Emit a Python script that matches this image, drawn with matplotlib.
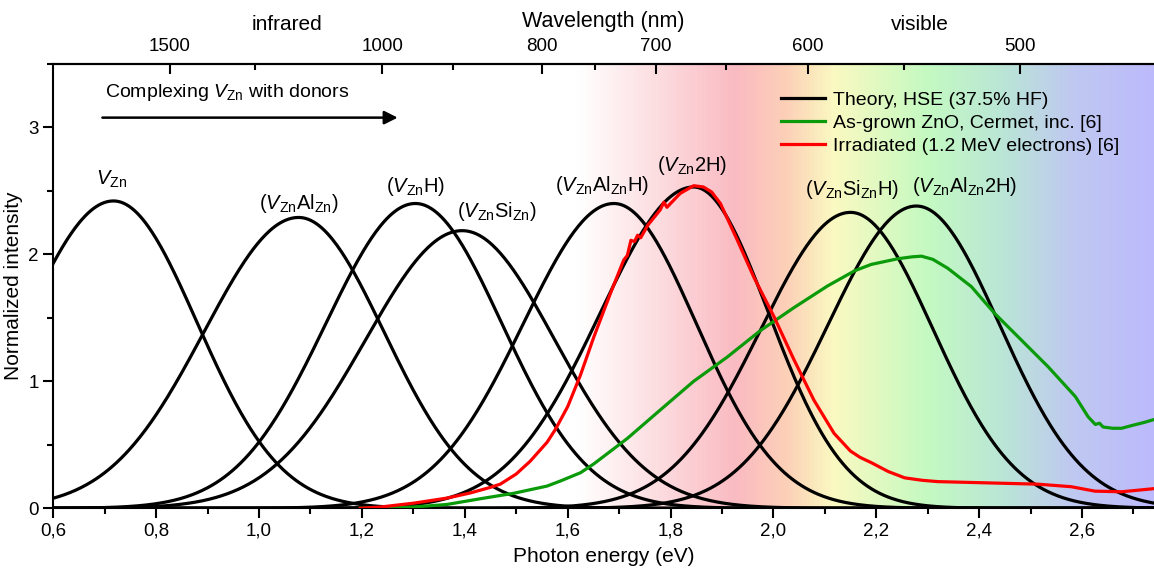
import numpy as np
import matplotlib
matplotlib.use('Agg')
import matplotlib.pyplot as plt
from matplotlib.colors import LinearSegmentedColormap
from matplotlib.ticker import MultipleLocator, FuncFormatter, FixedLocator

plt.rcParams['font.family'] = ['Liberation Sans', 'DejaVu Sans']
plt.rcParams['mathtext.fontset'] = 'custom'
plt.rcParams['mathtext.rm'] = 'Liberation Sans'
plt.rcParams['mathtext.it'] = 'Liberation Sans:italic'

# theory peaks (asymmetric gaussian lineshapes)
peak_labels = [r'$V_{\mathrm{Zn}}$',
               r'($V_{\mathrm{Zn}}$Al$_{\mathrm{Zn}}$)',
               r'($V_{\mathrm{Zn}}$H)',
               r'($V_{\mathrm{Zn}}$Si$_{\mathrm{Zn}}$)',
               r'($V_{\mathrm{Zn}}$Al$_{\mathrm{Zn}}$H)',
               r'($V_{\mathrm{Zn}}$2H)',
               r'($V_{\mathrm{Zn}}$Si$_{\mathrm{Zn}}$H)',
               r'($V_{\mathrm{Zn}}$Al$_{\mathrm{Zn}}$2H)']
peak_centers = [0.717, 1.077, 1.304, 1.395, 1.690, 1.845, 2.150, 2.278]
peak_heights = [2.42, 2.29, 2.40, 2.186, 2.40, 2.53, 2.33, 2.38]
sigma_low = [0.174, 0.184, 0.174, 0.188, 0.176, 0.182, 0.174, 0.172]
sigma_high = [0.162, 0.166, 0.168, 0.180, 0.160, 0.146, 0.160, 0.162]

# irradiated sample (red)
red_e = [1.197, 1.236, 1.300, 1.365, 1.410, 1.450, 1.469, 1.500, 1.527, 1.560,
         1.576, 1.600, 1.625, 1.651, 1.683, 1.709, 1.716, 1.723, 1.730, 1.736,
         1.742, 1.756, 1.764, 1.780, 1.787, 1.793, 1.800, 1.819, 1.845, 1.864,
         1.880, 1.897, 1.930, 1.962, 2.001, 2.040, 2.079, 2.118, 2.150, 2.169,
         2.190, 2.223, 2.255, 2.290, 2.320, 2.417, 2.514, 2.579, 2.625, 2.677,
         2.741]
red_i = [0.00, 0.01, 0.04, 0.08, 0.12, 0.165, 0.19, 0.27, 0.37, 0.52,
         0.62, 0.80, 1.05, 1.35, 1.69, 1.955, 1.99, 2.11, 2.10, 2.15,
         2.13, 2.23, 2.27, 2.35, 2.41, 2.37, 2.40, 2.48, 2.54, 2.53,
         2.49, 2.40, 2.11, 1.82, 1.51, 1.17, 0.85, 0.59, 0.45, 0.40,
         0.36, 0.29, 0.24, 0.22, 0.21, 0.20, 0.19, 0.17, 0.135, 0.13,
         0.155]

# as-grown sample (green)
green_e = [1.197, 1.300, 1.365, 1.430, 1.495, 1.560, 1.586, 1.625, 1.651, 1.716,
           1.780, 1.845, 1.910, 1.975, 2.040, 2.105, 2.158, 2.190, 2.242, 2.270,
           2.288, 2.310, 2.339, 2.385, 2.430, 2.482, 2.534, 2.587, 2.612, 2.626,
           2.634, 2.641, 2.660, 2.677, 2.700, 2.720, 2.741]
green_i = [0.00, 0.01, 0.03, 0.075, 0.118, 0.175, 0.215, 0.28, 0.35, 0.55,
           0.774, 1.0, 1.19, 1.40, 1.58, 1.75, 1.87, 1.92, 1.965, 1.98,
           1.985, 1.96, 1.89, 1.745, 1.535, 1.325, 1.115, 0.88, 0.72, 0.66,
           0.67, 0.64, 0.63, 0.63, 0.655, 0.675, 0.70]

top_ticks_nm = [1500, 1000, 800, 700, 600, 500]
top_minor_nm = [1250, 900, 750, 650, 550]

xmin, xmax = 0.6, 2.74
ymax = 3.5

fig = plt.figure(figsize=(11.54, 5.69), dpi=100)
ax = fig.add_axes([0.0462, 0.1067, 1 - 0.0462, 0.7812])
ax.set_xlim(xmin, xmax)
ax.set_ylim(0, ymax)

# spectral background
stops = [(0.6, (1, 1, 1)), (1.62, (1, 1, 1)), (1.76, (0.99, 0.88, 0.89)),
         (1.93, (0.98, 0.73, 0.76)), (2.03, (0.99, 0.82, 0.72)),
         (2.12, (0.98, 0.98, 0.76)), (2.30, (0.77, 0.98, 0.76)),
         (2.45, (0.73, 0.90, 0.84)), (2.58, (0.75, 0.79, 0.94)),
         (2.74, (0.74, 0.73, 0.99))]
cm = LinearSegmentedColormap.from_list(
    'spec', [((e - xmin) / (xmax - xmin), c) for e, c in stops])
grad = np.linspace(0, 1, 512).reshape(1, -1)
ax.imshow(grad, cmap=cm, extent=[xmin, xmax, 0, ymax], aspect='auto',
          interpolation='bilinear', zorder=0)

energy = np.linspace(xmin, xmax, 800)
for k, (mu, a, sl, sh) in enumerate(zip(peak_centers, peak_heights, sigma_low, sigma_high)):
    s = np.where(energy < mu, sl, sh)
    ax.plot(energy, a * np.exp(-(energy - mu) ** 2 / (2 * s ** 2)), color='black',
            lw=2.3, zorder=3, label='Theory, HSE (37.5% HF)' if k == 0 else None)

ax.plot(green_e, green_i, color='#0a9a0a', lw=2.3, zorder=4,
        label='As-grown ZnO, Cermet, inc. [6]')
ax.plot(red_e, red_i, color='#ff0000', lw=2.3, zorder=5,
        label='Irradiated (1.2 MeV electrons) [6]')

label_pos = [(0.714, 2.59), (1.078, 2.40), (1.305, 2.53), (1.463, 2.335),
             (1.666, 2.545), (1.842, 2.70), (2.153, 2.51), (2.372, 2.53)]
for txt, (lx, ly) in zip(peak_labels, label_pos):
    ax.text(lx, ly, txt, ha='center', va='center', fontsize=14.5, zorder=6)

ax.annotate('', xy=(1.275, 3.076), xytext=(0.690, 3.076),
            arrowprops=dict(arrowstyle='-|>', color='black', lw=1.8,
                            mutation_scale=20))
ax.text(0.700, 3.27, r'Complexing $V_{\mathrm{Zn}}$ with donors', fontsize=14,
        va='center', ha='left')

ax.legend(loc='upper left', bbox_to_anchor=(0.645, 0.978), frameon=False,
          fontsize=14, handlelength=2.3, labelspacing=0.28, handletextpad=0.4)

comma = FuncFormatter(lambda v, p: ('%.1f' % v).replace('.', ','))
ax.xaxis.set_major_locator(MultipleLocator(0.2))
ax.xaxis.set_minor_locator(MultipleLocator(0.1))
ax.xaxis.set_major_formatter(comma)
ax.yaxis.set_major_locator(MultipleLocator(1))
ax.yaxis.set_minor_locator(MultipleLocator(0.5))
ax.tick_params(which='both', direction='out', width=1.5, labelsize=13.5)
ax.tick_params(which='major', length=7)
ax.tick_params(which='minor', length=4)
ax.tick_params(axis='x', top=False)
ax.spines['right'].set_visible(False)
for sp in ['left', 'bottom', 'top']:
    ax.spines[sp].set_linewidth(1.5)
ax.set_xlabel('Photon energy (eV)', fontsize=15, labelpad=5)
ax.set_ylabel('Normalized intensity', fontsize=15, labelpad=4)

top = ax.secondary_xaxis('top', functions=(lambda e: 1239.84 / e, lambda w: 1239.84 / w))
top.xaxis.set_major_locator(FixedLocator(top_ticks_nm))
top.xaxis.set_minor_locator(FixedLocator(top_minor_nm))
top.set_xticklabels([str(t) for t in top_ticks_nm])
top.tick_params(which='both', direction='in', width=1.5, labelsize=13.5, pad=6)
top.tick_params(which='major', length=7)
top.tick_params(which='minor', length=4)
top.spines['top'].set_linewidth(1.5)
top.set_xlabel('Wavelength (nm)', fontsize=15.5, labelpad=8)

fig.text(287 / 1154, 1 - 25 / 569, 'infrared', ha='center', va='center', fontsize=15)
fig.text(920 / 1154, 1 - 25 / 569, 'visible', ha='center', va='center', fontsize=15)

fig.savefig('out.png', dpi=100)
